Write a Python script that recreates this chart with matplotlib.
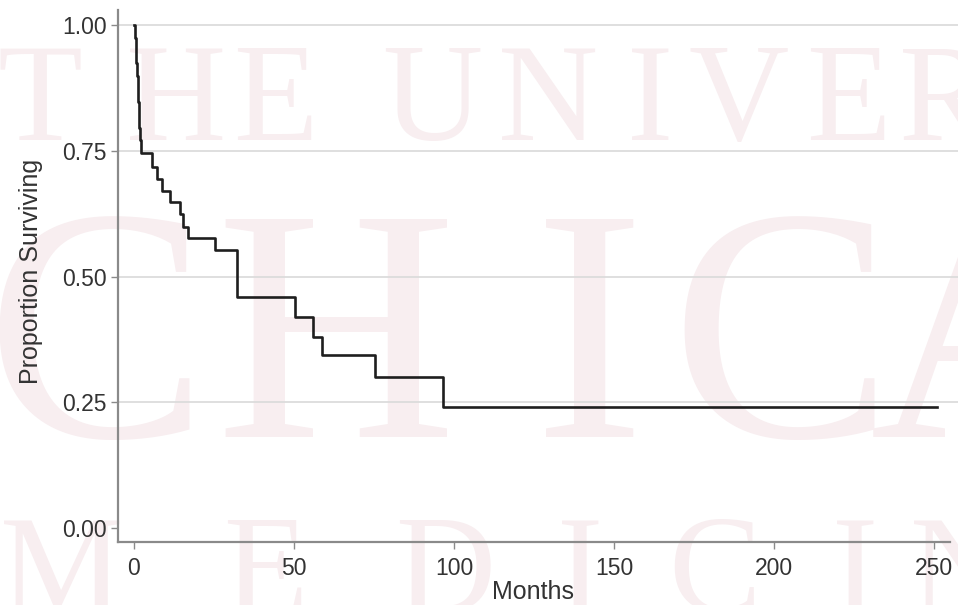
import matplotlib
matplotlib.use("Agg")
import matplotlib.pyplot as plt

# Kaplan-Meier estimate
months = [0, 0.3, 0.5, 0.7, 0.9, 1.1, 1.3, 1.5, 1.7, 1.9, 2.1,
          5.5, 7.1, 8.6, 11.3, 14.4, 15.4, 17.0, 25.3, 32.1,
          50.3, 56.0, 58.6, 75.3, 96.7, 251]
surviving = [1.0, 0.975, 0.949, 0.924, 0.898, 0.873, 0.847, 0.822, 0.796, 0.771, 0.745,
             0.718, 0.694, 0.671, 0.649, 0.624, 0.599, 0.576, 0.553, 0.460,
             0.420, 0.380, 0.344, 0.301, 0.241, 0.241]

x_ticks = [0, 50, 100, 150, 200, 250]
y_ticks = [0.0, 0.25, 0.5, 0.75, 1.0]
y_ticklabels = ["0.00", "0.25", "0.50", "0.75", "1.00"]

# faint watermark in the background, one letter at a time
wm_top = list("THEUNIVER")
wm_mid = list("CHICA")
wm_bot = list("MEDICIN")

W, H = 958, 605
fig = plt.figure(figsize=(W / 100, H / 100), dpi=100)
fig.patch.set_facecolor("white")

wm_color = "#f8eef0"
top_x = [40, 176, 275, 432, 548, 650, 739, 848, 945]
for ch, px in zip(wm_top, top_x):
    fig.text(px / W, 1 - 140 / H, ch, family="Liberation Serif", fontsize=100,
             color=wm_color, ha="center", va="baseline", zorder=-5)
mid_x = [97, 336, 590, 782, 990]
for ch, px in zip(wm_mid, mid_x):
    fig.text(px / W, 1 - 437 / H, ch, family="Liberation Serif", fontsize=240,
             color=wm_color, ha="center", va="baseline", zorder=-5)
bot_x = [62, 265, 445, 580, 715, 855, 960]
for ch, px in zip(wm_bot, bot_x):
    fig.text(px / W, 1 - 612 / H, ch, family="Liberation Serif", fontsize=100,
             color=wm_color, ha="center", va="baseline", zorder=-5)

ax = fig.add_axes([118 / W, 63 / H, (W - 118) / W, (542 - 10) / H])
ax.patch.set_alpha(0)
ax.set_zorder(2)

ax.step(months, surviving, where="post", color="#1e1e1e", lw=1.9, zorder=3)

ax.set_xlim(-5, 257.5)
ax.set_ylim(-0.028, 1.030)
ax.set_yticks(y_ticks)
ax.set_yticklabels(y_ticklabels)
ax.set_xticks(x_ticks)

for y in y_ticks[1:]:
    ax.axhline(y, color="#dcdcdc", lw=1.3, zorder=1)

for s in ["top", "right"]:
    ax.spines[s].set_visible(False)
for s in ["left", "bottom"]:
    ax.spines[s].set_color("#8a8a8a")
    ax.spines[s].set_linewidth(1.6)
ax.spines["bottom"].set_bounds(-5, 255)

ax.tick_params(axis="both", colors="#8a8a8a", length=5, width=1,
               labelcolor="#333333", labelsize=16.5)
ax.tick_params(axis="x", pad=6)
ax.tick_params(axis="y", pad=3)
for lab in ax.get_xticklabels() + ax.get_yticklabels():
    lab.set_family("Liberation Sans")

fig.text(533 / W, 1 - 592 / H, "Months", family="Liberation Sans", fontsize=18,
         color="#333333", ha="center", va="center", zorder=5)
fig.text(31 / W, 1 - 271 / H, "Proportion Surviving", family="Liberation Sans",
         fontsize=18, color="#333333", ha="center", va="center", rotation=90, zorder=5)

fig.savefig("out.png", dpi=100, facecolor="white")
